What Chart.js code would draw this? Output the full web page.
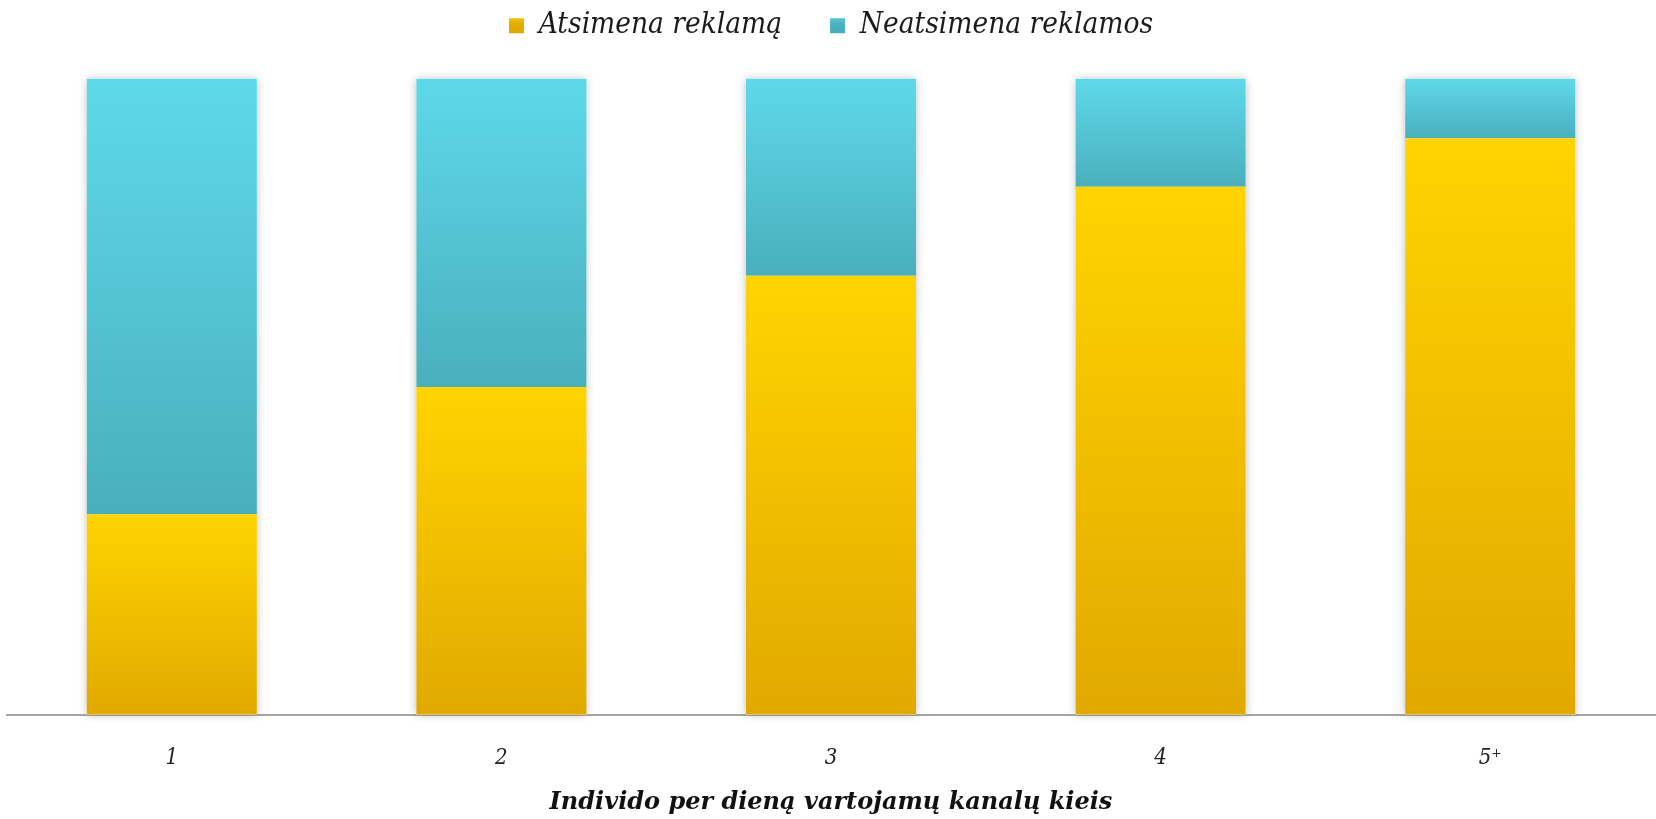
<!DOCTYPE html>
<html>
<head>
<meta charset="utf-8">
<title>Reklamos atsiminimas</title>
<script src="https://cdn.jsdelivr.net/npm/chart.js@4"></script>
<style>
  html, body { margin: 0; padding: 0; background: #ffffff; }
  #wrap { width: 1656px; height: 819px; position: relative; }
  canvas { display: block; }
</style>
</head>
<body>
<div id="wrap"><canvas id="chart" width="1656" height="819"></canvas></div>
<script>
// Channels used per day and share (%) of people who remember / do not remember the ad
const categories = ['1', '2', '3', '4', '5⁺'];
const remembered = [31.5, 51.5, 69.0, 83.0, 90.6];
const notRemembered = [68.5, 48.5, 31.0, 17.0, 9.4];
const seriesNames = ['Atsimena reklamą', 'Neatsimena reklamos'];

const FONT = "'DejaVu Serif Condensed', 'DejaVu Serif', serif";
const TITLE_FONT = "'DejaVu Serif', serif";
const YELLOW = ['#FFD400', '#E1A900'];
const CYAN = ['#5ED9EA', '#4AAFBD'];
const LEGEND_GAP = 28; // extra space between the legend and the plot

function vGradient(ctx, top, bottom, stops) {
  const g = ctx.createLinearGradient(0, top, 0, bottom);
  g.addColorStop(0, stops[0]);
  g.addColorStop(1, stops[1]);
  return g;
}

// Each bar segment gets its own top-to-bottom gradient
function segmentFill(stops, lowerOf, upperOf) {
  return function (c) {
    const chart = c.chart;
    const y = chart.scales.y;
    if (!chart.chartArea || !y || c.dataIndex === undefined) return stops[0];
    const i = c.dataIndex;
    const top = y.getPixelForValue(upperOf(i));
    const bottom = y.getPixelForValue(lowerOf(i));
    return vGradient(chart.ctx, top, bottom, stops);
  };
}

// Soft shadow behind each whole column
const columnShadow = {
  id: 'columnShadow',
  beforeDatasetsDraw(chart) {
    const meta = chart.getDatasetMeta(0);
    const y = chart.scales.y;
    const ctx = chart.ctx;
    ctx.save();
    ctx.shadowColor = 'rgba(0,0,0,0.28)';
    ctx.shadowBlur = 9;
    ctx.shadowOffsetX = 0;
    ctx.shadowOffsetY = 0;
    ctx.fillStyle = '#ffffff';
    meta.data.forEach((bar, i) => {
      const w = bar.width;
      const top = y.getPixelForValue(remembered[i] + notRemembered[i]);
      const bottom = y.getPixelForValue(0);
      ctx.fillRect(bar.x - w / 2, top, w, bottom - top);
    });
    ctx.restore();
  }
};

// Reserve some room under the legend
const legendSpacer = {
  id: 'legendSpacer',
  beforeLayout(chart) {
    const legend = chart.legend;
    if (legend && !legend._spaced) {
      legend._spaced = true;
      const baseFit = legend.fit;
      legend.fit = function () {
        baseFit.call(this);
        this.height += LEGEND_GAP;
      };
    }
  }
};

const ctx = document.getElementById('chart').getContext('2d');
new Chart(ctx, {
  type: 'bar',
  data: {
    labels: categories,
    datasets: [
      {
        label: seriesNames[0],
        data: remembered,
        backgroundColor: segmentFill(YELLOW, () => 0, i => remembered[i]),
        borderWidth: 0
      },
      {
        label: seriesNames[1],
        data: notRemembered,
        backgroundColor: segmentFill(CYAN, i => remembered[i], i => remembered[i] + notRemembered[i]),
        borderWidth: 0
      }
    ]
  },
  options: {
    responsive: false,
    animation: false,
    devicePixelRatio: 1,
    layout: { padding: { left: 7, right: 1, top: -37, bottom: 2 } },
    datasets: {
      bar: { categoryPercentage: 1.0, barPercentage: 0.516 }
    },
    scales: {
      x: {
        stacked: true,
        grid: { display: false, drawTicks: false },
        border: { display: true, color: '#A6A6A6', width: 2 },
        ticks: {
          color: '#222222',
          padding: 30,
          font: { family: FONT, size: 22, style: 'italic' }
        },
        title: {
          display: true,
          text: 'Individo per dieną vartojamų kanalų kieis',
          color: '#111111',
          padding: { top: -13, bottom: 0 },
          font: { family: TITLE_FONT, size: 24, style: 'italic', weight: 'bold' }
        }
      },
      y: {
        stacked: true,
        display: false,
        min: 0,
        max: 100
      }
    },
    plugins: {
      tooltip: { enabled: false },
      legend: {
        position: 'top',
        align: 'center',
        labels: {
          color: '#1a1a1a',
          boxWidth: 15,
          boxHeight: 15,
          padding: 48,
          font: { family: FONT, size: 29.5, style: 'italic' },
          generateLabels(chart) {
            const c = chart.ctx;
            return chart.data.datasets.map((ds, i) => ({
              text: ds.label,
              fillStyle: vGradient(c, 11, 26, i === 0 ? YELLOW : CYAN),
              strokeStyle: 'rgba(0,0,0,0)',
              lineWidth: 0,
              hidden: false,
              datasetIndex: i,
              fontColor: '#1a1a1a'
            }));
          }
        }
      }
    }
  },
  plugins: [legendSpacer, columnShadow]
});
</script>
</body>
</html>
